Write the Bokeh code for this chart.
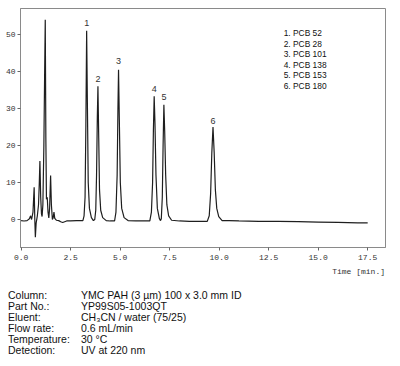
from bokeh.plotting import figure
from bokeh.layouts import column
from bokeh.models import Range1d, FixedTicker, PrintfTickFormatter, ColumnDataSource, Div
from bokeh.core.properties import value
from bokeh.embed import file_html
from bokeh.resources import INLINE

# ---- data ----
time = [0.00, 0.15, 0.30, 0.42, 0.48, 0.53, 0.60, 0.66, 0.69, 0.72, 0.76, 0.82, 0.88, 0.92,
        0.95, 0.99, 1.03, 1.06, 1.10, 1.15, 1.19, 1.22, 1.25, 1.28, 1.32, 1.36, 1.40, 1.44,
        1.49, 1.53, 1.58, 1.62, 1.66, 1.70, 1.78, 1.90, 2.00, 2.10, 2.20, 2.30, 2.50, 2.80,
        3.00, 3.12, 3.18, 3.23, 3.27, 3.31, 3.35, 3.39, 3.45, 3.55, 3.65, 3.72, 3.77, 3.81,
        3.85, 3.88, 3.92, 3.96, 4.02, 4.12, 4.30, 4.50, 4.72, 4.79, 4.85, 4.89, 4.92, 4.96,
        5.01, 5.08, 5.20, 5.40, 5.80, 6.20, 6.50, 6.58, 6.64, 6.68, 6.72, 6.76, 6.81, 6.88,
        6.98, 7.04, 7.08, 7.13, 7.17, 7.21, 7.25, 7.30, 7.36, 7.45, 7.60, 8.00, 8.50, 9.00,
        9.40, 9.50, 9.57, 9.63, 9.69, 9.75, 9.81, 9.88, 9.98, 10.15, 10.50, 11.00, 12.00,
        13.00, 14.00, 15.00, 16.00, 17.00, 17.50]
signal = [-0.3, -0.4, -0.3, 0.2, 1.0, 0.0, 2.0, 8.7, 0.5, -4.8, -1.0, 1.0, 4.0, 10.0,
          15.8, 6.0, 1.5, 0.8, 4.0, 20.0, 40.0, 54.0, 22.0, 5.5, 6.0, 2.0, 0.4, 3.0,
          11.9, 4.0, 0.0, 0.5, 2.0, 0.3, -0.2, -0.3, -0.6, -0.8, -0.6, -0.4, -0.4, -0.3,
          -0.3, -0.3, 1.0, 6.0, 25.0, 51.0, 30.0, 10.0, 3.0, 0.5, -0.3, 0.0, 2.5, 12.0,
          28.0, 36.0, 22.0, 8.0, 2.5, 0.5, -0.3, -0.4, -0.4, 2.0, 12.0, 30.0, 40.5, 27.0,
          10.0, 3.0, 0.5, -0.3, -0.4, -0.4, -0.4, 2.0, 10.0, 24.0, 33.3, 26.0, 12.0, 3.0,
          0.3, -0.3, 0.2, 6.0, 20.0, 31.0, 24.0, 12.0, 4.0, 1.0, -0.2, -0.4, -0.5, -0.5,
          -0.5, 1.0, 7.0, 18.0, 25.0, 18.0, 8.0, 3.0, 0.8, -0.3, -0.3, -0.4, -0.5,
          -0.5, -0.6, -0.7, -0.8, -0.9, -0.9]

peak_ids = ["1", "2", "3", "4", "5", "6"]
peak_times = [3.31, 3.88, 4.92, 6.72, 7.21, 9.69]
peak_label_y = [53.1, 38.1, 42.8, 35.4, 33.0, 26.5]

compounds = ["1. PCB 52", "2. PCB 28", "3. PCB 101", "4. PCB 138", "5. PCB 153", "6. PCB 180"]

cond_keys = ["Column:", "Part No.:", "Eluent:", "Flow rate:", "Temperature:", "Detection:"]
cond_vals = ["YMC PAH (3 µm) 100 x 3.0 mm ID", "YP99S05-1003QT", "CH₃CN / water (75/25)",
             "0.6 mL/min", "30 °C", "UV at 220 nm"]

x_ticks = [0, 2.5, 5.0, 7.5, 10.0, 12.5, 15.0, 17.5]
y_ticks = [0, 10, 20, 30, 40, 50]
x_axis_title = "Time [min.]"

# ---- chromatogram figure ----
p = figure(width=400, height=264, output_backend="svg", toolbar_location=None,
           x_range=Range1d(-0.03, 18.4), y_range=Range1d(-7.57, 57.03),
           min_border_left=20, min_border_right=15, min_border_top=8, min_border_bottom=17)
p.grid.visible = False
p.outline_line_color = "#8a8a8a"
p.outline_line_width = 1

for ax in (p.xaxis[0], p.yaxis[0]):
    ax.axis_line_color = "#8a8a8a"
    ax.major_tick_line_color = "#666666"
    ax.minor_tick_line_color = None
    ax.major_tick_in = 0
    ax.major_tick_out = 3
    ax.major_label_text_font = "Liberation Mono"
    ax.major_label_text_font_size = "8px"
    ax.major_label_text_color = "#333333"

p.xaxis[0].ticker = FixedTicker(ticks=x_ticks)
p.xaxis[0].formatter = PrintfTickFormatter(format="%.1f")
p.xaxis[0].major_label_standoff = 4
p.yaxis[0].ticker = FixedTicker(ticks=y_ticks)
p.yaxis[0].major_label_standoff = 2

src = ColumnDataSource(dict(t=time, s=signal))
p.line("t", "s", source=src, line_color="#1e1e1e", line_width=1.2)

lab_src = ColumnDataSource(dict(x=peak_times, y=peak_label_y, t=peak_ids))
p.text("x", "y", text="t", source=lab_src, text_font=value("Liberation Sans"),
       text_font_size="9px", text_align="center", text_baseline="middle", text_color="#333333")

leg_y = [50.3 - 2.84 * i for i in range(len(compounds))]
leg_src = ColumnDataSource(dict(x=[13.26] * len(compounds), y=leg_y, t=compounds))
p.text("x", "y", text="t", source=leg_src, text_font=value("Liberation Sans"),
       text_font_size="8.4px", text_align="left", text_baseline="middle", text_color="#111111")

# ---- axis title and conditions block below the chart ----
parts = [
    '<div style="position:absolute;right:15px;top:3px;line-height:10px;'
    'font-family:\'Liberation Mono\';font-size:8px;color:#333;white-space:nowrap;">'
    + x_axis_title + '</div>'
]
for i, (k, v) in enumerate(zip(cond_keys, cond_vals)):
    top = 25.5 + 11.1 * i
    parts.append(
        f'<div style="position:absolute;left:8px;top:{top:.1f}px;height:11px;line-height:11px;'
        f'white-space:nowrap;">{k}</div>'
        f'<div style="position:absolute;left:81px;top:{top:.1f}px;height:11px;line-height:11px;'
        f'white-space:nowrap;">{v}</div>'
    )
html = ('<div style="position:relative;width:400px;height:102px;font-family:\'Liberation Sans\';'
        'font-size:10.5px;color:#111;">' + "".join(parts) + '</div>')
info = Div(text=html, width=400, height=102, margin=0)

layout = column(p, info, spacing=0)
open("out.html", "w").write(file_html(layout, INLINE))
